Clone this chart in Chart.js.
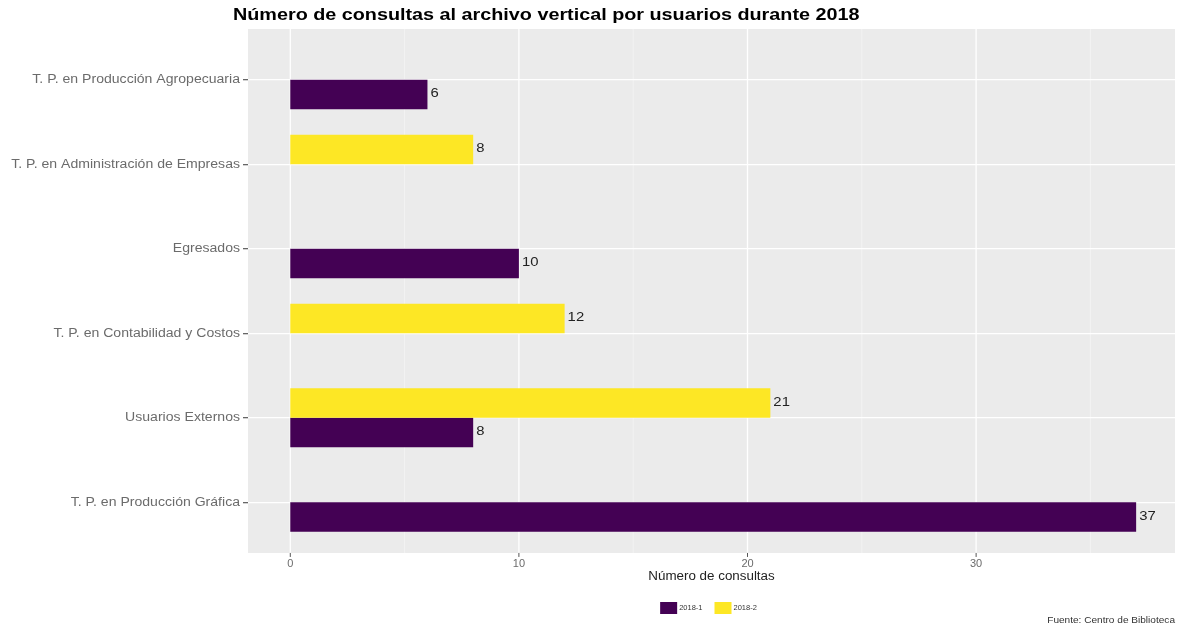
<!DOCTYPE html>
<html>
<head>
<meta charset="utf-8">
<script src="https://cdn.jsdelivr.net/npm/chart.js@4.4.1/dist/chart.umd.min.js"></script>
<style>
  html, body { margin: 0; padding: 0; background: #fff; }
  #wrap { width: 1182px; height: 629px; }
</style>
</head>
<body>
<div id="wrap"><canvas id="chart" width="1182" height="629"></canvas></div>
<script>
// datos
const categorias = [
  'T. P. en Producción Agropecuaria',
  'T. P. en Administración de Empresas',
  'Egresados',
  'T. P. en Contabilidad y Costos',
  'Usuarios Externos',
  'T. P. en Producción Gráfica'
];
const periodos = ['2018-1', '2018-2'];
const consultas2018_1 = [6, null, 10, null, 8, 37];
const consultas2018_2 = [null, 8, null, 12, 21, null];
const ticksX = [0, 10, 20, 30];
const ticksXMenores = [5, 15, 25, 35];

const titulo = 'Número de consultas al archivo vertical por usuarios durante 2018';
const tituloEjeX = 'Número de consultas';
const fuente = 'Fuente: Centro de Biblioteca';

const morado = '#440154';
const amarillo = '#FDE725';
const FONT = '"Liberation Sans", Arial, sans-serif';

// el original tiene el texto algo ensanchado horizontalmente
function texto(ctx, s, x, y, align, font, color, sx) {
  ctx.save();
  ctx.font = font;
  ctx.fillStyle = color;
  ctx.textBaseline = 'middle';
  ctx.textAlign = align;
  ctx.translate(x, y);
  ctx.scale(sx, 1);
  ctx.fillText(s, 0, 0);
  ctx.restore();
}

// panel gris al estilo ggplot (se extiende un poco fuera del chartArea)
const panelPlugin = {
  id: 'panel',
  beforeDraw(chart) {
    const { ctx, chartArea: a, scales } = chart;
    const ext = (a.bottom - a.top) / categorias.length * 0.1;
    const top = a.top - ext, bottom = a.bottom + ext;
    ctx.save();
    ctx.fillStyle = '#EBEBEB';
    ctx.fillRect(a.left, top, a.right - a.left, bottom - top);
    ctx.strokeStyle = '#F7F7F7';
    ctx.lineWidth = 0.7;
    ticksXMenores.forEach(v => {
      const x = scales.x.getPixelForValue(v);
      ctx.beginPath(); ctx.moveTo(x, top); ctx.lineTo(x, bottom); ctx.stroke();
    });
    ctx.strokeStyle = '#FFFFFF';
    ctx.lineWidth = 1.3;
    ticksX.forEach(v => {
      const x = scales.x.getPixelForValue(v);
      ctx.beginPath(); ctx.moveTo(x, top); ctx.lineTo(x, bottom); ctx.stroke();
    });
    ctx.strokeStyle = '#555';
    ctx.lineWidth = 1;
    ticksX.forEach(v => {
      const x = scales.x.getPixelForValue(v);
      ctx.beginPath(); ctx.moveTo(x, bottom); ctx.lineTo(x, bottom + 4); ctx.stroke();
    });
    ctx.restore();
  },
  afterDraw(chart) {
    const { ctx, chartArea: a, scales } = chart;
    const cx = (a.left + a.right) / 2;
    // titulo
    texto(ctx, titulo, 233, 16, 'left', 'bold 16px ' + FONT, '#000', 1.236);
    // etiquetas del eje y
    categorias.forEach((c, i) => {
      texto(ctx, c, a.left - 8, scales.y.getPixelForTick(i), 'right', '12.5px ' + FONT, '#6b6b6b', 1.125);
    });
    // titulo eje x
    texto(ctx, tituloEjeX, cx, 577, 'center', '12px ' + FONT, '#222', 1.115);
    // leyenda
    ctx.save();
    ctx.font = '7.5px ' + FONT;
    ctx.textBaseline = 'middle';
    const colores = [morado, amarillo];
    const bw = 17, bh = 12, gap = 2, sep = 12;
    let total = 0;
    periodos.forEach((p, i) => { total += bw + gap + ctx.measureText(p).width + (i ? 0 : sep); });
    let x = cx - total / 2 - 3;
    ctx.textAlign = 'left';
    periodos.forEach((p, i) => {
      ctx.fillStyle = colores[i];
      ctx.fillRect(x, 602, bw, bh);
      x += bw + gap;
      ctx.fillStyle = '#333';
      ctx.fillText(p, x, 608);
      x += ctx.measureText(p).width + sep;
    });
    ctx.restore();
    // fuente
    texto(ctx, fuente, a.right, 621, 'right', '9px ' + FONT, '#333', 1.12);
  },
  afterDatasetsDraw(chart) {
    const { ctx } = chart;
    chart.data.datasets.forEach((ds, di) => {
      const meta = chart.getDatasetMeta(di);
      meta.data.forEach((bar, i) => {
        const v = ds.data[i];
        if (v === null) return;
        texto(ctx, String(v), bar.x + 3, bar.y - 1, 'left', '13.5px ' + FONT, '#222', 1.1);
      });
    });
  }
};

new Chart(document.getElementById('chart').getContext('2d'), {
  type: 'bar',
  data: {
    labels: categorias,
    datasets: [
      { label: periodos[1], data: consultas2018_2, backgroundColor: amarillo,
        categoryPercentage: 0.7, barPercentage: 1.0 },
      { label: periodos[0], data: consultas2018_1, backgroundColor: morado,
        categoryPercentage: 0.7, barPercentage: 1.0 }
    ]
  },
  options: {
    indexAxis: 'y',
    responsive: false,
    animation: false,
    layout: { padding: { top: 37.5, right: 7, bottom: 0, left: 0 } },
    plugins: {
      legend: { display: false },
      title: { display: false },
      tooltip: { enabled: false }
    },
    scales: {
      x: {
        type: 'linear',
        min: -1.85,
        max: 38.7,
        afterBuildTicks(scale) { scale.ticks = ticksX.map(v => ({ value: v })); },
        afterFit(scale) { scale.height = 629 - 544.5; },
        grid: { display: false, drawTicks: false },
        border: { display: false },
        ticks: { color: '#6b6b6b', font: { family: FONT, size: 11 }, padding: 13 }
      },
      y: {
        offset: true,
        afterFit(scale) { scale.width = 248; },
        grid: { offset: false, color: '#FFFFFF', lineWidth: 1.3, tickColor: '#666', tickLength: 5 },
        border: { display: false },
        ticks: { display: false }
      }
    }
  },
  plugins: [panelPlugin]
});
</script>
</body>
</html>
